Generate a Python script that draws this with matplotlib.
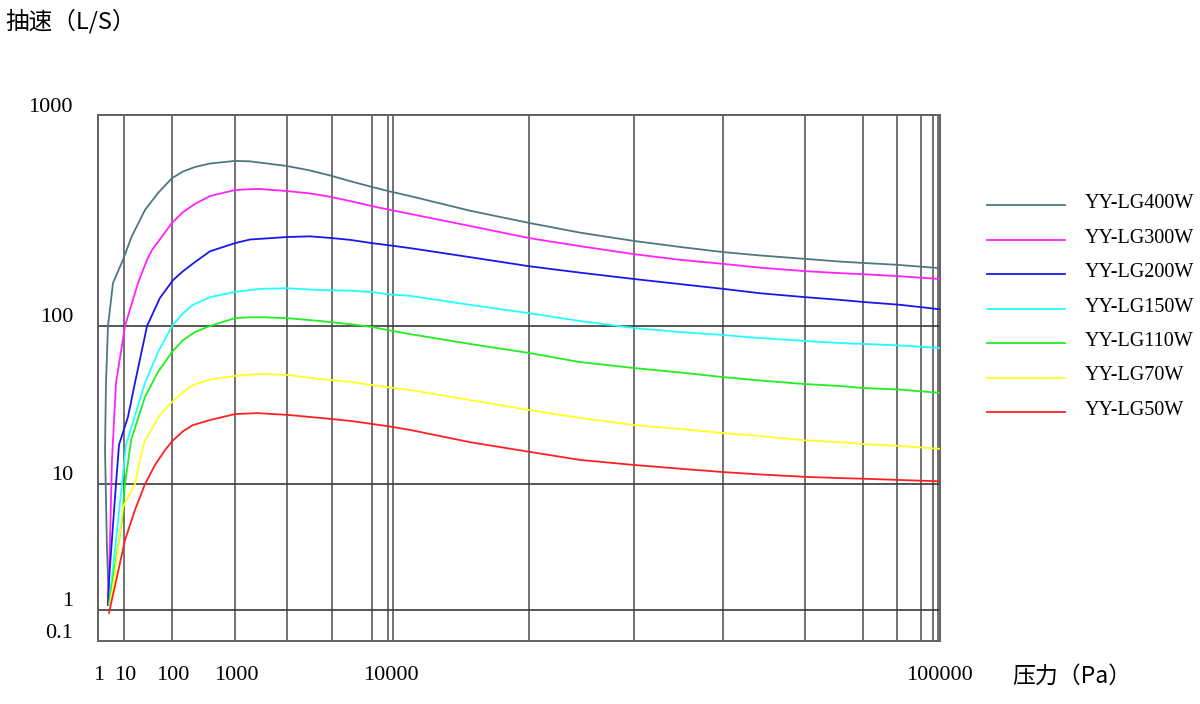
import numpy as np
import matplotlib
matplotlib.use("Agg")
import matplotlib.pyplot as plt
from matplotlib.lines import Line2D
from matplotlib.ticker import NullLocator

# ── Values: pressure in Pa, pumping speed in L/S ─────────────────────────────
MODELS = ["YY-LG400W", "YY-LG300W", "YY-LG200W", "YY-LG150W",
          "YY-LG110W", "YY-LG70W", "YY-LG50W"]
COLORS = ["#4e7880", "#ff22ff", "#1818ee", "#22ffff",
          "#22ee22", "#ffff22", "#ff2020"]

P_400 = [2.65, 2.22, 1.86, 2.03, 2.42, 3.78, 9.15, 14.4, 27.4, 51.1, 100, 150, 232, 401,
         1000, 1250, 2165, 3047, 4227, 5521, 7655, 10000, 10876, 13990, 17935, 22220,
         27876, 33810, 40529, 47300, 57186, 66230, 72983, 84196, 100840]
S_400 = [1.10, 2.99, 16.4, 43.6, 100, 160, 206, 265, 355, 427, 502, 540, 567, 589,
         606, 603, 573, 546, 514, 486, 456, 434, 413, 352, 308, 277,
         253, 237, 224, 216, 208, 202, 199, 195, 188]

P_300 = [2.42, 2.89, 3.45, 4.92, 10.5, 19.6, 30.2, 38.3, 100, 150, 232, 401, 1000,
         1250, 1449, 2165, 3047, 4227, 5521, 7655, 10000, 10876, 13990, 17935, 22220,
         27876, 33810, 40529, 47300, 57186, 66230, 72983, 85300, 100840]
S_300 = [1.10, 3.59, 14.2, 43.6, 100, 160, 206, 229, 308, 347, 379, 413, 441,
         445, 446, 436, 425, 408, 391, 370, 355, 340, 298, 261, 239,
         219, 206, 197, 189, 182, 178, 176, 172, 167]

P_200 = [2.42, 2.65, 4.92, 6.42, 12.1, 16.9, 30.2, 56.2, 104, 150, 232, 401, 1000,
         1250, 2165, 3047, 4227, 5521, 7655, 10000, 10876, 13990, 17935, 22220,
         27876, 33810, 40529, 47300, 57186, 66230, 72983, 85300, 100840]
S_200 = [1.10, 1.73, 10, 17.7, 26.6, 43.6, 100, 136, 165, 182, 201, 226, 247,
         257, 264, 266, 261, 256, 247, 241, 234, 212, 192, 179,
         167, 158, 150, 143, 137, 133, 130, 126, 120]

P_150 = [2.65, 8.38, 11.0, 27.4, 51.1, 100, 150, 215, 401, 1000, 1449, 2165, 3533,
         5521, 7655, 10000, 10876, 13990, 17935, 22220, 27876, 33810, 40529, 47300,
         57186, 66230, 72983, 85300, 100840]
S_150 = [1.10, 10, 17.7, 43.6, 68.4, 100, 115, 126, 137, 145, 150, 151, 148,
         147, 145, 141, 139, 126, 115, 105.6, 97.1, 91.6, 87.7, 83.9,
         80.4, 78.0, 77.0, 75.3, 72.6]

P_110 = [2.65, 8.38, 10.5, 14.0, 27.4, 51.1, 100, 150, 232, 401, 1000, 1250, 1516,
         2165, 3533, 5521, 7655, 10000, 10876, 13990, 17935, 22220, 27876, 33810,
         40529, 47300, 57186, 66230, 72983, 85300, 100840]
S_110 = [1.10, 5.18, 10, 18.9, 35.6, 51.2, 68.5, 81.5, 91.6, 100, 109, 110, 110,
         109, 105.6, 102, 98.6, 93.7, 88.9, 77.0, 67.5, 59.1, 54.2, 50.8,
         47.5, 45.2, 42.9, 41.7, 40.5, 39.6, 37.7]

P_70 = [2.89, 4.51, 9.15, 16.9, 21.5, 27.4, 56.2, 100, 150, 215, 401, 1000, 1449,
        2165, 3533, 5521, 7655, 10000, 10876, 13990, 17935, 22220, 27876, 33810,
        40529, 47300, 57186, 66230, 72983, 85300, 100840]
S_70 = [1.10, 1.97, 6.57, 10, 14.2, 18.9, 27.4, 33.0, 38.2, 42.3, 45.8, 48.3, 49.7,
        49.0, 46.2, 44.3, 42.3, 40.8, 39.4, 34.0, 29.4, 26.2, 23.6, 22.3,
        21.0, 20.1, 18.9, 18.4, 17.9, 17.4, 16.7]

P_50 = [2.65, 10.5, 16.9, 27.4, 44.3, 71.5, 104, 150, 215, 401, 1000, 1387,
        2165, 3533, 5521, 7655, 10000, 10876, 13990, 17935, 22220, 27876, 33810,
        40529, 47300, 57186, 66230, 72983, 85300, 100840]
S_50 = [0.80, 3.59, 6.22, 10, 13.2, 16.4, 18.9, 21.6, 23.6, 25.4, 27.7, 28.1,
        27.4, 26.2, 25.1, 24.0, 23.1, 22.0, 18.4, 16.0, 14.2, 13.2, 12.5,
        11.9, 11.5, 11.1, 10.9, 10.8, 10.6, 10.4]

PRESSURES = [P_400, P_300, P_200, P_150, P_110, P_70, P_50]
SPEEDS = [S_400, S_300, S_200, S_150, S_110, S_70, S_50]

X_TICKS = [1, 10, 100, 1000, 10000, 100000]
X_TICK_LABELS = ["1", "10", "100", "1000", "10000", "100000"]
Y_TICKS = [0.1, 1, 10, 100, 1000]
Y_TICK_LABELS = ["0.1", "1", "10", "100", "1000"]
X_GRID = [10, 100, 1000, 2165, 4227, 7655, 9710, 10130, 17935, 27876,
          40529, 57186, 72983, 84196, 93100, 98000, 100000]
Y_GRID = [1, 10, 100]

# the chart uses uneven decade widths on both axes
X_LOG = [-1, 0, 1, 2, 3, 4, 5, 6]
X_POS = [-26, 0, 26, 74, 137, 292, 840, 1388]
Y_LOG = [-2, -1, 0, 1, 2, 3, 4]
Y_POS = [-31, 0, 31, 157, 315, 526, 737]


def fx(x):
    return np.interp(np.log10(np.clip(x, 1e-9, None)), X_LOG, X_POS)


def fx_inv(v):
    return 10 ** np.interp(v, X_POS, X_LOG)


def fy(y):
    return np.interp(np.log10(np.clip(y, 1e-9, None)), Y_LOG, Y_POS)


def fy_inv(v):
    return 10 ** np.interp(v, Y_POS, Y_LOG)


W, H = 1200, 704
NUM_FONT = "Liberation Serif"
CJK_FONT = ["Noto Sans CJK SC", "DejaVu Sans"]

fig = plt.figure(figsize=(W / 100, H / 100), dpi=100)
ax = fig.add_axes([98 / W, 1 - 641 / H, (940 - 98) / W, (641 - 115) / H])
ax.set_xscale("function", functions=(fx, fx_inv))
ax.set_yscale("function", functions=(fy, fy_inv))
ax.set_xlim(1, 100840)
ax.set_ylim(0.1, 1000)
for a in (ax.xaxis, ax.yaxis):
    a.set_major_locator(NullLocator())
    a.set_minor_locator(NullLocator())
for s in ax.spines.values():
    s.set_color("#606060")
    s.set_linewidth(1.4)

for gx in X_GRID:
    ax.axvline(gx, color="#5a5a5a", lw=1.2, zorder=1)
for gy in Y_GRID:
    ax.axhline(gy, color="#3a3a3a", lw=1.2, zorder=1)

for p, s, c in zip(PRESSURES, SPEEDS, COLORS):
    ax.plot(p, s, color=c, lw=1.3, zorder=3, solid_joinstyle="round")

for v, lab in zip(X_TICKS, X_TICK_LABELS):
    ax.annotate(lab, xy=(v, 0), xycoords=ax.get_xaxis_transform(),
                xytext=(1, -34), textcoords="offset pixels",
                ha="center", va="center", fontsize=16, family=NUM_FONT)
for v, lab in zip(Y_TICKS, Y_TICK_LABELS):
    ax.annotate(lab, xy=(0, v), xycoords=ax.get_yaxis_transform(),
                xytext=(-25, 8), textcoords="offset pixels",
                ha="right", va="center", fontsize=16, family=NUM_FONT)

fig.text(5 / W, 1 - 21 / H, "抽速（L/S）", ha="left", va="center",
         fontsize=17, family=CJK_FONT)
fig.text(1012 / W, 1 - 676 / H, "压力（Pa）", ha="left", va="center",
         fontsize=16.5, family=CJK_FONT)

# legend, drawn by hand to sit where the reference puts it
for i, (name, c) in enumerate(zip(MODELS, COLORS)):
    yy = 1 - (205 + i * 34.5) / H
    fig.add_artist(Line2D([987 / W, 1065 / W], [yy, yy], color=c, lw=1.3,
                          transform=fig.transFigure))
    fig.text(1085 / W, yy + 1.5 / H, name, ha="left", va="center",
             fontsize=14.5, family=NUM_FONT)

fig.savefig("out.png", dpi=100)
